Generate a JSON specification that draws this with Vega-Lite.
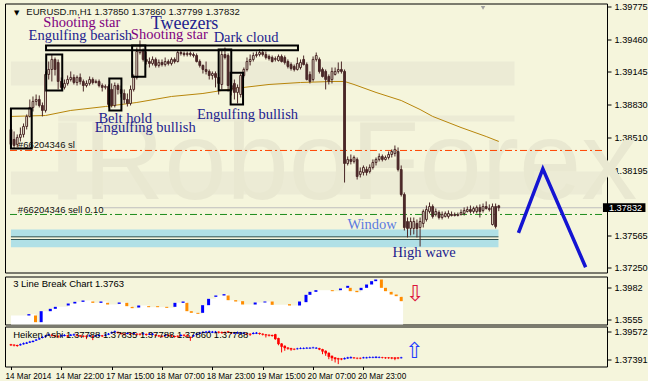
{
"$schema": "https://vega.github.io/schema/vega-lite/v6.json",
"background": "#F5F5DC",
"padding": {"left": 4, "top": 1.5, "right": 0, "bottom": 0},
"spacing": 0,
"resolve": {"scale": {"x": "independent", "y": "independent"}},
"config": {
  "view": {"stroke": "#000000", "strokeWidth": 1},
  "axis": {"labelFont": "Liberation Sans", "labelFontSize": 9.2, "labelColor": "#000000", "tickColor": "#000000", "domain": false, "grid": false},
  "text": {"font": "Liberation Sans"}
},
"datasets": {
  "candles": [
{"i":0,"o":1.38589,"h":1.38637,"l":1.38415,"c":1.38444},
{"i":1,"o":1.38492,"h":1.38570,"l":1.38405,"c":1.38434},
{"i":2,"o":1.38444,"h":1.38541,"l":1.38415,"c":1.38512},
{"i":3,"o":1.38512,"h":1.38608,"l":1.38473,"c":1.38541},
{"i":4,"o":1.38541,"h":1.38647,"l":1.38512,"c":1.38618},
{"i":5,"o":1.38618,"h":1.38734,"l":1.38589,"c":1.38715},
{"i":6,"o":1.38715,"h":1.38879,"l":1.38705,"c":1.38802},
{"i":7,"o":1.38802,"h":1.38908,"l":1.38763,"c":1.38860},
{"i":8,"o":1.38860,"h":1.38927,"l":1.38821,"c":1.38879},
{"i":9,"o":1.38879,"h":1.38918,"l":1.38802,"c":1.38821},
{"i":10,"o":1.38821,"h":1.38850,"l":1.38715,"c":1.38773},
{"i":11,"o":1.38773,"h":1.39150,"l":1.38753,"c":1.39121},
{"i":12,"o":1.39121,"h":1.39246,"l":1.39072,"c":1.39169},
{"i":13,"o":1.39169,"h":1.39314,"l":1.39053,"c":1.39266},
{"i":14,"o":1.39266,"h":1.39285,"l":1.39111,"c":1.39169},
{"i":15,"o":1.39237,"h":1.39266,"l":1.38976,"c":1.39053},
{"i":16,"o":1.39053,"h":1.39092,"l":1.38976,"c":1.38996},
{"i":17,"o":1.38996,"h":1.39072,"l":1.38976,"c":1.39034},
{"i":18,"o":1.39034,"h":1.39111,"l":1.39014,"c":1.39072},
{"i":19,"o":1.39072,"h":1.39150,"l":1.39053,"c":1.39092},
{"i":20,"o":1.39092,"h":1.39121,"l":1.39024,"c":1.39043},
{"i":21,"o":1.39043,"h":1.39111,"l":1.39014,"c":1.39092},
{"i":22,"o":1.39092,"h":1.39130,"l":1.39024,"c":1.39053},
{"i":23,"o":1.39053,"h":1.39072,"l":1.38956,"c":1.39014},
{"i":24,"o":1.39014,"h":1.39063,"l":1.38996,"c":1.39034},
{"i":25,"o":1.39034,"h":1.39101,"l":1.39014,"c":1.39072},
{"i":26,"o":1.39072,"h":1.39092,"l":1.39024,"c":1.39043},
{"i":27,"o":1.39043,"h":1.39072,"l":1.39034,"c":1.39053},
{"i":28,"o":1.39053,"h":1.39072,"l":1.38996,"c":1.39014},
{"i":29,"o":1.39014,"h":1.39034,"l":1.38956,"c":1.38996},
{"i":30,"o":1.38996,"h":1.39024,"l":1.38976,"c":1.39005},
{"i":31,"o":1.39005,"h":1.39024,"l":1.38802,"c":1.38831},
{"i":32,"o":1.38976,"h":1.39034,"l":1.38802,"c":1.38821},
{"i":33,"o":1.38821,"h":1.39043,"l":1.38802,"c":1.39014},
{"i":34,"o":1.39014,"h":1.39034,"l":1.38927,"c":1.38976},
{"i":35,"o":1.38976,"h":1.39014,"l":1.38898,"c":1.38937},
{"i":36,"o":1.38937,"h":1.38976,"l":1.38840,"c":1.38879},
{"i":37,"o":1.38879,"h":1.38937,"l":1.38811,"c":1.38840},
{"i":38,"o":1.38840,"h":1.39014,"l":1.38821,"c":1.38976},
{"i":39,"o":1.38976,"h":1.39121,"l":1.38956,"c":1.39092},
{"i":40,"o":1.39092,"h":1.39382,"l":1.39072,"c":1.39343},
{"i":41,"o":1.39333,"h":1.39450,"l":1.39314,"c":1.39353},
{"i":42,"o":1.39353,"h":1.39372,"l":1.39246,"c":1.39266},
{"i":43,"o":1.39266,"h":1.39343,"l":1.39217,"c":1.39246},
{"i":44,"o":1.39246,"h":1.39285,"l":1.39188,"c":1.39227},
{"i":45,"o":1.39227,"h":1.39295,"l":1.39208,"c":1.39266},
{"i":46,"o":1.39266,"h":1.39285,"l":1.39188,"c":1.39208},
{"i":47,"o":1.39208,"h":1.39266,"l":1.39188,"c":1.39237},
{"i":48,"o":1.39237,"h":1.39266,"l":1.39198,"c":1.39217},
{"i":49,"o":1.39217,"h":1.39285,"l":1.39198,"c":1.39246},
{"i":50,"o":1.39246,"h":1.39266,"l":1.39208,"c":1.39227},
{"i":51,"o":1.39227,"h":1.39285,"l":1.39208,"c":1.39266},
{"i":52,"o":1.39266,"h":1.39285,"l":1.39227,"c":1.39246},
{"i":53,"o":1.39246,"h":1.39353,"l":1.39237,"c":1.39333},
{"i":54,"o":1.39333,"h":1.39353,"l":1.39304,"c":1.39324},
{"i":55,"o":1.39324,"h":1.39343,"l":1.39295,"c":1.39314},
{"i":56,"o":1.39314,"h":1.39343,"l":1.39295,"c":1.39324},
{"i":57,"o":1.39324,"h":1.39343,"l":1.39295,"c":1.39314},
{"i":58,"o":1.39314,"h":1.39333,"l":1.39285,"c":1.39304},
{"i":59,"o":1.39304,"h":1.39324,"l":1.39237,"c":1.39246},
{"i":60,"o":1.39246,"h":1.39266,"l":1.39188,"c":1.39208},
{"i":61,"o":1.39208,"h":1.39217,"l":1.39130,"c":1.39169},
{"i":62,"o":1.39169,"h":1.39246,"l":1.39121,"c":1.39150},
{"i":63,"o":1.39150,"h":1.39169,"l":1.39072,"c":1.39111},
{"i":64,"o":1.39111,"h":1.39150,"l":1.39072,"c":1.39130},
{"i":65,"o":1.39130,"h":1.39150,"l":1.38996,"c":1.39092},
{"i":66,"o":1.39092,"h":1.39130,"l":1.38927,"c":1.39034},
{"i":67,"o":1.39024,"h":1.39363,"l":1.38976,"c":1.39314},
{"i":68,"o":1.39314,"h":1.39382,"l":1.39266,"c":1.39285},
{"i":69,"o":1.39304,"h":1.39324,"l":1.38956,"c":1.39014},
{"i":70,"o":1.39014,"h":1.39072,"l":1.38918,"c":1.38976},
{"i":71,"o":1.39034,"h":1.39072,"l":1.38879,"c":1.38947},
{"i":72,"o":1.38947,"h":1.39024,"l":1.38840,"c":1.38996},
{"i":73,"o":1.38927,"h":1.39130,"l":1.38898,"c":1.39111},
{"i":74,"o":1.39111,"h":1.39188,"l":1.39092,"c":1.39169},
{"i":75,"o":1.39169,"h":1.39285,"l":1.39150,"c":1.39246},
{"i":76,"o":1.39246,"h":1.39314,"l":1.39208,"c":1.39266},
{"i":77,"o":1.39266,"h":1.39333,"l":1.39246,"c":1.39304},
{"i":78,"o":1.39304,"h":1.39343,"l":1.39285,"c":1.39314},
{"i":79,"o":1.39314,"h":1.39363,"l":1.39295,"c":1.39333},
{"i":80,"o":1.39333,"h":1.39363,"l":1.39295,"c":1.39314},
{"i":81,"o":1.39314,"h":1.39343,"l":1.39266,"c":1.39285},
{"i":82,"o":1.39295,"h":1.39314,"l":1.39256,"c":1.39275},
{"i":83,"o":1.39285,"h":1.39304,"l":1.39237,"c":1.39246},
{"i":84,"o":1.39266,"h":1.39295,"l":1.39246,"c":1.39275},
{"i":85,"o":1.39256,"h":1.39314,"l":1.39246,"c":1.39295},
{"i":86,"o":1.39295,"h":1.39314,"l":1.39237,"c":1.39246},
{"i":87,"o":1.39285,"h":1.39304,"l":1.39217,"c":1.39237},
{"i":88,"o":1.39246,"h":1.39266,"l":1.39179,"c":1.39198},
{"i":89,"o":1.39217,"h":1.39237,"l":1.39159,"c":1.39179},
{"i":90,"o":1.39198,"h":1.39217,"l":1.39150,"c":1.39169},
{"i":91,"o":1.39169,"h":1.39285,"l":1.39159,"c":1.39227},
{"i":92,"o":1.39188,"h":1.39266,"l":1.39169,"c":1.39237},
{"i":93,"o":1.39266,"h":1.39304,"l":1.39208,"c":1.39217},
{"i":94,"o":1.39217,"h":1.39237,"l":1.39063,"c":1.39072},
{"i":95,"o":1.39121,"h":1.39150,"l":1.39034,"c":1.39053},
{"i":96,"o":1.39072,"h":1.39295,"l":1.39053,"c":1.39266},
{"i":97,"o":1.39266,"h":1.39333,"l":1.39246,"c":1.39304},
{"i":98,"o":1.39266,"h":1.39285,"l":1.39130,"c":1.39150},
{"i":99,"o":1.39169,"h":1.39188,"l":1.39092,"c":1.39101},
{"i":100,"o":1.39150,"h":1.39169,"l":1.38976,"c":1.39072},
{"i":101,"o":1.39101,"h":1.39121,"l":1.39024,"c":1.39053},
{"i":102,"o":1.39072,"h":1.39188,"l":1.39034,"c":1.39150},
{"i":103,"o":1.39121,"h":1.39188,"l":1.39111,"c":1.39150},
{"i":104,"o":1.39150,"h":1.39237,"l":1.39130,"c":1.39169},
{"i":105,"o":1.39169,"h":1.39246,"l":1.39130,"c":1.39150},
{"i":106,"o":1.39150,"h":1.39169,"l":1.38076,"c":1.38260},
{"i":107,"o":1.38260,"h":1.38328,"l":1.38241,"c":1.38299},
{"i":108,"o":1.38299,"h":1.38347,"l":1.38251,"c":1.38280},
{"i":109,"o":1.38280,"h":1.38337,"l":1.38260,"c":1.38318},
{"i":110,"o":1.38299,"h":1.38318,"l":1.38105,"c":1.38134},
{"i":111,"o":1.38154,"h":1.38222,"l":1.38125,"c":1.38183},
{"i":112,"o":1.38173,"h":1.38241,"l":1.38144,"c":1.38222},
{"i":113,"o":1.38202,"h":1.38231,"l":1.38144,"c":1.38173},
{"i":114,"o":1.38183,"h":1.38251,"l":1.38164,"c":1.38222},
{"i":115,"o":1.38222,"h":1.38299,"l":1.38202,"c":1.38270},
{"i":116,"o":1.38270,"h":1.38318,"l":1.38241,"c":1.38299},
{"i":117,"o":1.38299,"h":1.38357,"l":1.38280,"c":1.38328},
{"i":118,"o":1.38328,"h":1.38347,"l":1.38280,"c":1.38299},
{"i":119,"o":1.38299,"h":1.38337,"l":1.38289,"c":1.38318},
{"i":120,"o":1.38318,"h":1.38376,"l":1.38299,"c":1.38347},
{"i":121,"o":1.38347,"h":1.38396,"l":1.38318,"c":1.38376},
{"i":122,"o":1.38357,"h":1.38434,"l":1.38328,"c":1.38396},
{"i":123,"o":1.38376,"h":1.38415,"l":1.38183,"c":1.38202},
{"i":124,"o":1.38202,"h":1.38241,"l":1.37941,"c":1.37960},
{"i":125,"o":1.37960,"h":1.37980,"l":1.37612,"c":1.37641},
{"i":126,"o":1.37699,"h":1.37738,"l":1.37545,"c":1.37632},
{"i":127,"o":1.37632,"h":1.37738,"l":1.37564,"c":1.37699},
{"i":128,"o":1.37632,"h":1.37738,"l":1.37574,"c":1.37699},
{"i":129,"o":1.37680,"h":1.37719,"l":1.37545,"c":1.37632},
{"i":130,"o":1.37641,"h":1.37738,"l":1.37457,"c":1.37699},
{"i":131,"o":1.37680,"h":1.37815,"l":1.37641,"c":1.37796},
{"i":132,"o":1.37719,"h":1.37854,"l":1.37699,"c":1.37815},
{"i":133,"o":1.37796,"h":1.37883,"l":1.37777,"c":1.37844},
{"i":134,"o":1.37844,"h":1.37864,"l":1.37728,"c":1.37748},
{"i":135,"o":1.37767,"h":1.37825,"l":1.37748,"c":1.37796},
{"i":136,"o":1.37786,"h":1.37806,"l":1.37719,"c":1.37738},
{"i":137,"o":1.37738,"h":1.37796,"l":1.37719,"c":1.37767},
{"i":138,"o":1.37748,"h":1.37796,"l":1.37738,"c":1.37777},
{"i":139,"o":1.37748,"h":1.37806,"l":1.37728,"c":1.37777},
{"i":140,"o":1.37767,"h":1.37796,"l":1.37748,"c":1.37757},
{"i":141,"o":1.37767,"h":1.37786,"l":1.37748,"c":1.37757},
{"i":142,"o":1.37757,"h":1.37786,"l":1.37748,"c":1.37767},
{"i":143,"o":1.37767,"h":1.37815,"l":1.37757,"c":1.37786},
{"i":144,"o":1.37777,"h":1.37835,"l":1.37757,"c":1.37806},
{"i":145,"o":1.37796,"h":1.37844,"l":1.37786,"c":1.37815},
{"i":146,"o":1.37815,"h":1.37854,"l":1.37777,"c":1.37796},
{"i":147,"o":1.37796,"h":1.37844,"l":1.37777,"c":1.37825},
{"i":148,"o":1.37796,"h":1.37854,"l":1.37777,"c":1.37835},
{"i":149,"o":1.37835,"h":1.37864,"l":1.37738,"c":1.37796},
{"i":150,"o":1.37806,"h":1.37873,"l":1.37786,"c":1.37844},
{"i":151,"o":1.37844,"h":1.37893,"l":1.37815,"c":1.37825},
{"i":152,"o":1.37825,"h":1.37864,"l":1.37796,"c":1.37815},
{"i":153,"o":1.37670,"h":1.37873,"l":1.37661,"c":1.37844},
{"i":154,"o":1.37844,"h":1.37873,"l":1.37632,"c":1.37651},
{"i":155,"o":1.37850,"h":1.37860,"l":1.37799,"c":1.37832}
  ],
  "ma": [
{"i":0,"p":1.38715},{"i":11,"p":1.38724},{"i":19,"p":1.38773},{"i":30,"p":1.38811},{"i":40,"p":1.38850},{"i":51,"p":1.38908},{"i":61,"p":1.38937},{"i":71,"p":1.38985},{"i":82,"p":1.39024},{"i":92,"p":1.39043},{"i":102,"p":1.39053},{"i":106,"p":1.39053},{"i":109,"p":1.39024},{"i":116,"p":1.38947},{"i":124,"p":1.38869},{"i":130,"p":1.38782},{"i":134,"p":1.38715},{"i":143,"p":1.38608},{"i":151,"p":1.38521},{"i":155,"p":1.38473}
  ],
  "boxes": [
{"i":0,"i2":6.6,"p":1.38792,"p2":1.38405},
{"i":11.2,"i2":16.3,"p":1.39314,"p2":1.38966},
{"i":31.25,"i2":35.1,"p":1.39082,"p2":1.38773},
{"i":38.5,"i2":42.7,"p":1.39401,"p2":1.39098},
{"i":66,"i2":70,"p":1.39363,"p2":1.38969},
{"i":69.8,"i2":73.75,"p":1.39137,"p2":1.38831},
{"i":11.15,"i2":91.2,"p":1.39401,"p2":1.39356}
  ],
  "patterns": [
{"t":"Shooting star","i":10.3,"p":1.39582},
{"t":"Engulfing bearish","i":5.6,"p":1.39452},
{"t":"Tweezers","i":44.4,"p":1.39563},
{"t":"Shooting star","i":38.1,"p":1.39459},
{"t":"Dark cloud","i":64.4,"p":1.39437},
{"t":"Belt hold","i":27.8,"p":1.38647},
{"t":"Engulfing bullish","i":26.6,"p":1.38563},
{"t":"Engulfing bullish","i":59.1,"p":1.38692},
{"t":"Window","i":106.9,"p":1.37629},
{"t":"High wave","i":121.25,"p":1.37358}
  ],
  "bricks": [
{"i":5.7,"o":1.36089,"c":1.36269},{"i":7.8,"o":1.36089,"c":1.35191},{"i":9.6,"o":1.35191,"c":1.36672},{"i":12.5,"o":1.36672,"c":1.36987},{"i":14.1,"o":1.36987,"c":1.37256},{"i":18.2,"o":1.37436,"c":1.37705},{"i":20.3,"o":1.37705,"c":1.37930},{"i":22.9,"o":1.37930,"c":1.38109},{"i":26,"o":1.37975,"c":1.37795},{"i":28.6,"o":1.37795,"c":1.37975},{"i":30.7,"o":1.37795,"c":1.37570},{"i":34.4,"o":1.37660,"c":1.37840},{"i":36.8,"o":1.37795,"c":1.37346},{"i":38.5,"o":1.37256,"c":1.37077},{"i":40.6,"o":1.37166,"c":1.37436},{"i":43.75,"o":1.37346,"c":1.37211},{"i":46.6,"o":1.37346,"c":1.37211},{"i":49.5,"o":1.37256,"c":1.37122},{"i":52.1,"o":1.37256,"c":1.37795},{"i":54.7,"o":1.37795,"c":1.37975},{"i":55.9,"o":1.37795,"c":1.36672},{"i":57.3,"o":1.36672,"c":1.36448},{"i":59.4,"o":1.36448,"c":1.36313},{"i":60.9,"o":1.36448,"c":1.37481},{"i":62.8,"o":1.37481,"c":1.38334},{"i":65.1,"o":1.38603,"c":1.38783},{"i":67.7,"o":1.38783,"c":1.38962},{"i":69,"o":1.38783,"c":1.38154},{"i":71.4,"o":1.38154,"c":1.37975},{"i":73.6,"o":1.38020,"c":1.37570},{"i":77.6,"o":1.37570,"c":1.37840},{"i":80.7,"o":1.37840,"c":1.37975},{"i":83,"o":1.37975,"c":1.37526},{"i":88.5,"o":1.37615,"c":1.37436},{"i":91.7,"o":1.37436,"c":1.37975},{"i":93.75,"o":1.37885,"c":1.38873},{"i":95,"o":1.38873,"c":1.39277},{"i":96.9,"o":1.39277,"c":1.39501},{"i":102.1,"o":1.39501,"c":1.39367},{"i":104.7,"o":1.39501,"c":1.39726},{"i":107,"o":1.39816,"c":1.40085},{"i":107.8,"o":1.39816,"c":1.39367},{"i":109.9,"o":1.39411,"c":1.39232},{"i":111.25,"o":1.39501,"c":1.39816},{"i":113,"o":1.39816,"c":1.40265},{"i":114.6,"o":1.40265,"c":1.40714},{"i":115.9,"o":1.40714,"c":1.40938},{"i":117.7,"o":1.40938,"c":1.39816},{"i":119,"o":1.39816,"c":1.39367},{"i":120.8,"o":1.39277,"c":1.38918},{"i":122.4,"o":1.38918,"c":1.38693},{"i":124,"o":1.38603,"c":1.38020}
  ],
  "lbwhite": [
{"i":0,"p":1.36089},{"i":5.7,"p":1.36269},{"i":7.8,"p":1.35191},{"i":9.6,"p":1.36672},{"i":12.5,"p":1.36987},{"i":14.1,"p":1.37256},{"i":18.2,"p":1.37705},{"i":20.3,"p":1.37930},{"i":22.9,"p":1.38109},{"i":26,"p":1.37795},{"i":28.6,"p":1.37975},{"i":30.7,"p":1.37570},{"i":34.4,"p":1.37840},{"i":36.8,"p":1.37346},{"i":38.5,"p":1.37077},{"i":40.6,"p":1.37436},{"i":43.75,"p":1.37211},{"i":46.6,"p":1.37211},{"i":49.5,"p":1.37122},{"i":52.1,"p":1.37795},{"i":54.7,"p":1.37975},{"i":55.9,"p":1.36672},{"i":57.3,"p":1.36448},{"i":59.4,"p":1.36313},{"i":60.9,"p":1.37481},{"i":62.8,"p":1.38334},{"i":65.1,"p":1.38783},{"i":67.7,"p":1.38962},{"i":69,"p":1.38154},{"i":71.4,"p":1.37975},{"i":73.6,"p":1.37570},{"i":77.6,"p":1.37840},{"i":80.7,"p":1.37975},{"i":83,"p":1.37526},{"i":88.5,"p":1.37436},{"i":91.7,"p":1.37975},{"i":93.75,"p":1.38873},{"i":95,"p":1.39277},{"i":96.9,"p":1.39501},{"i":102.1,"p":1.39367},{"i":104.7,"p":1.39726},{"i":107,"p":1.40085},{"i":107.8,"p":1.39367},{"i":109.9,"p":1.39232},{"i":111.25,"p":1.39816},{"i":113,"p":1.40265},{"i":114.6,"p":1.40714},{"i":115.9,"p":1.40938},{"i":117.7,"p":1.39816},{"i":119,"p":1.39367},{"i":120.8,"p":1.38918},{"i":122.4,"p":1.38693},{"i":124,"p":1.38020},{"i":124.6,"p":1.38020}
  ],
  "ha": [
{"i":0,"o":1.3858,"c":1.3850,"h":1.3861,"l":1.3844},
{"i":1,"o":1.3855,"c":1.3847,"h":1.3858,"l":1.3841},
{"i":2,"o":1.3852,"c":1.3844,"h":1.3855,"l":1.3838},
{"i":3,"o":1.3850,"c":1.3858,"h":1.3864,"l":1.3847},
{"i":4,"o":1.3858,"c":1.3866,"h":1.3872,"l":1.3855},
{"i":5,"o":1.3863,"c":1.3871,"h":1.3877,"l":1.3860},
{"i":6,"o":1.3871,"c":1.3879,"h":1.3885,"l":1.3868},
{"i":7,"o":1.3876,"c":1.3884,"h":1.3890,"l":1.3873},
{"i":8,"o":1.3887,"c":1.3895,"h":1.3901,"l":1.3884},
{"i":9,"o":1.3897,"c":1.3905,"h":1.3911,"l":1.3894},
{"i":10,"o":1.3908,"c":1.3916,"h":1.3922,"l":1.3905},
{"i":11,"o":1.3918,"c":1.3926,"h":1.3932,"l":1.3915},
{"i":12,"o":1.3929,"c":1.3937,"h":1.3943,"l":1.3926},
{"i":13,"o":1.3934,"c":1.3926,"h":1.3937,"l":1.3920},
{"i":14,"o":1.3929,"c":1.3921,"h":1.3932,"l":1.3915},
{"i":15,"o":1.3926,"c":1.3918,"h":1.3929,"l":1.3907},
{"i":16,"o":1.3921,"c":1.3929,"h":1.3935,"l":1.3918},
{"i":17,"o":1.3924,"c":1.3932,"h":1.3938,"l":1.3921},
{"i":18,"o":1.3929,"c":1.3921,"h":1.3932,"l":1.3915},
{"i":19,"o":1.3926,"c":1.3934,"h":1.3940,"l":1.3923},
{"i":20,"o":1.3929,"c":1.3937,"h":1.3943,"l":1.3926},
{"i":21,"o":1.3934,"c":1.3926,"h":1.3937,"l":1.3920},
{"i":22,"o":1.3929,"c":1.3921,"h":1.3932,"l":1.3915},
{"i":23,"o":1.3926,"c":1.3918,"h":1.3929,"l":1.3912},
{"i":24,"o":1.3926,"c":1.3918,"h":1.3929,"l":1.3899},
{"i":25,"o":1.3921,"c":1.3929,"h":1.3935,"l":1.3918},
{"i":26,"o":1.3926,"c":1.3918,"h":1.3929,"l":1.3891},
{"i":27,"o":1.3921,"c":1.3929,"h":1.3935,"l":1.3918},
{"i":28,"o":1.3924,"c":1.3932,"h":1.3938,"l":1.3921},
{"i":29,"o":1.3929,"c":1.3921,"h":1.3932,"l":1.3915},
{"i":30,"o":1.3926,"c":1.3934,"h":1.3940,"l":1.3923},
{"i":31,"o":1.3934,"c":1.3942,"h":1.3948,"l":1.3931},
{"i":32,"o":1.3945,"c":1.3953,"h":1.3959,"l":1.3942},
{"i":33,"o":1.3953,"c":1.3961,"h":1.3967,"l":1.3950},
{"i":34,"o":1.3956,"c":1.3948,"h":1.3959,"l":1.3942},
{"i":35,"o":1.3948,"c":1.3940,"h":1.3951,"l":1.3934},
{"i":36,"o":1.3942,"c":1.3934,"h":1.3945,"l":1.3928},
{"i":37,"o":1.3940,"c":1.3948,"h":1.3954,"l":1.3937},
{"i":38,"o":1.3945,"c":1.3937,"h":1.3948,"l":1.3931},
{"i":39,"o":1.3940,"c":1.3948,"h":1.3954,"l":1.3937},
{"i":40,"o":1.3942,"c":1.3934,"h":1.3945,"l":1.3928},
{"i":41,"o":1.3942,"c":1.3934,"h":1.3945,"l":1.3928},
{"i":42,"o":1.3937,"c":1.3945,"h":1.3951,"l":1.3934},
{"i":43,"o":1.3940,"c":1.3932,"h":1.3943,"l":1.3926},
{"i":44,"o":1.3934,"c":1.3942,"h":1.3948,"l":1.3931},
{"i":45,"o":1.3934,"c":1.3942,"h":1.3948,"l":1.3931},
{"i":46,"o":1.3934,"c":1.3926,"h":1.3937,"l":1.3920},
{"i":47,"o":1.3929,"c":1.3921,"h":1.3932,"l":1.3915},
{"i":48,"o":1.3926,"c":1.3918,"h":1.3929,"l":1.3912},
{"i":49,"o":1.3924,"c":1.3932,"h":1.3938,"l":1.3921},
{"i":50,"o":1.3934,"c":1.3926,"h":1.3937,"l":1.3920},
{"i":51,"o":1.3929,"c":1.3921,"h":1.3932,"l":1.3915},
{"i":52,"o":1.3924,"c":1.3916,"h":1.3927,"l":1.3910},
{"i":53,"o":1.3926,"c":1.3918,"h":1.3929,"l":1.3912},
{"i":54,"o":1.3924,"c":1.3932,"h":1.3938,"l":1.3921},
{"i":55,"o":1.3934,"c":1.3926,"h":1.3937,"l":1.3920},
{"i":56,"o":1.3929,"c":1.3921,"h":1.3932,"l":1.3915},
{"i":57,"o":1.3916,"c":1.3908,"h":1.3919,"l":1.3885},
{"i":58,"o":1.3921,"c":1.3929,"h":1.3935,"l":1.3918},
{"i":59,"o":1.3934,"c":1.3942,"h":1.3948,"l":1.3931},
{"i":60,"o":1.3942,"c":1.3950,"h":1.3956,"l":1.3939},
{"i":61,"o":1.3948,"c":1.3956,"h":1.3962,"l":1.3945},
{"i":62,"o":1.3950,"c":1.3958,"h":1.3964,"l":1.3947},
{"i":63,"o":1.3953,"c":1.3961,"h":1.3967,"l":1.3950},
{"i":64,"o":1.3950,"c":1.3958,"h":1.3964,"l":1.3947},
{"i":65,"o":1.3950,"c":1.3958,"h":1.3964,"l":1.3947},
{"i":66,"o":1.3958,"c":1.3950,"h":1.3961,"l":1.3944},
{"i":67,"o":1.3956,"c":1.3948,"h":1.3959,"l":1.3942},
{"i":68,"o":1.3956,"c":1.3948,"h":1.3959,"l":1.3942},
{"i":69,"o":1.3961,"c":1.3953,"h":1.3964,"l":1.3947},
{"i":70,"o":1.3953,"c":1.3945,"h":1.3956,"l":1.3939},
{"i":71,"o":1.3942,"c":1.3950,"h":1.3956,"l":1.3939},
{"i":72,"o":1.3945,"c":1.3953,"h":1.3959,"l":1.3942},
{"i":73,"o":1.3942,"c":1.3950,"h":1.3956,"l":1.3939},
{"i":74,"o":1.3942,"c":1.3950,"h":1.3956,"l":1.3939},
{"i":75,"o":1.3945,"c":1.3937,"h":1.3948,"l":1.3931},
{"i":76,"o":1.3942,"c":1.3934,"h":1.3945,"l":1.3925},
{"i":77,"o":1.3940,"c":1.3948,"h":1.3954,"l":1.3937},
{"i":78,"o":1.3942,"c":1.3950,"h":1.3956,"l":1.3939},
{"i":79,"o":1.3948,"c":1.3940,"h":1.3951,"l":1.3934},
{"i":80,"o":1.3942,"c":1.3934,"h":1.3945,"l":1.3928},
{"i":81,"o":1.3937,"c":1.3929,"h":1.3940,"l":1.3912},
{"i":82,"o":1.3934,"c":1.3926,"h":1.3937,"l":1.3920},
{"i":83,"o":1.3932,"c":1.3924,"h":1.3935,"l":1.3918},
{"i":84,"o":1.3938,"c":1.3899,"h":1.3941,"l":1.3893},
{"i":85,"o":1.3907,"c":1.3859,"h":1.3910,"l":1.3850},
{"i":86,"o":1.3864,"c":1.3838,"h":1.3867,"l":1.3793},
{"i":87,"o":1.3846,"c":1.3827,"h":1.3849,"l":1.3806},
{"i":88,"o":1.3832,"c":1.3822,"h":1.3835,"l":1.3814},
{"i":89,"o":1.3827,"c":1.3816,"h":1.3830,"l":1.3806},
{"i":90,"o":1.3822,"c":1.3816,"h":1.3825,"l":1.3811},
{"i":91,"o":1.3819,"c":1.3824,"h":1.3830,"l":1.3816},
{"i":92,"o":1.3822,"c":1.3827,"h":1.3833,"l":1.3819},
{"i":93,"o":1.3822,"c":1.3827,"h":1.3833,"l":1.3819},
{"i":94,"o":1.3824,"c":1.3830,"h":1.3835,"l":1.3822},
{"i":95,"o":1.3824,"c":1.3830,"h":1.3835,"l":1.3822},
{"i":96,"o":1.3827,"c":1.3832,"h":1.3838,"l":1.3824},
{"i":97,"o":1.3824,"c":1.3830,"h":1.3835,"l":1.3822},
{"i":98,"o":1.3827,"c":1.3816,"h":1.3830,"l":1.3811},
{"i":99,"o":1.3819,"c":1.3800,"h":1.3822,"l":1.3779},
{"i":100,"o":1.3806,"c":1.3785,"h":1.3809,"l":1.3766},
{"i":101,"o":1.3790,"c":1.3758,"h":1.3793,"l":1.3739},
{"i":102,"o":1.3766,"c":1.3747,"h":1.3769,"l":1.3726},
{"i":103,"o":1.3753,"c":1.3739,"h":1.3756,"l":1.3713},
{"i":104,"o":1.3747,"c":1.3737,"h":1.3750,"l":1.3700},
{"i":105,"o":1.3745,"c":1.3737,"h":1.3748,"l":1.3731},
{"i":106,"o":1.3739,"c":1.3747,"h":1.3753,"l":1.3737},
{"i":107,"o":1.3745,"c":1.3753,"h":1.3758,"l":1.3742},
{"i":108,"o":1.3747,"c":1.3755,"h":1.3761,"l":1.3745},
{"i":109,"o":1.3753,"c":1.3747,"h":1.3756,"l":1.3742},
{"i":110,"o":1.3750,"c":1.3745,"h":1.3753,"l":1.3739},
{"i":111,"o":1.3750,"c":1.3745,"h":1.3753,"l":1.3739},
{"i":112,"o":1.3747,"c":1.3753,"h":1.3758,"l":1.3745},
{"i":113,"o":1.3747,"c":1.3753,"h":1.3758,"l":1.3745},
{"i":114,"o":1.3750,"c":1.3755,"h":1.3761,"l":1.3747},
{"i":115,"o":1.3750,"c":1.3755,"h":1.3761,"l":1.3747},
{"i":116,"o":1.3750,"c":1.3758,"h":1.3763,"l":1.3747},
{"i":117,"o":1.3750,"c":1.3755,"h":1.3761,"l":1.3747},
{"i":118,"o":1.3755,"c":1.3750,"h":1.3758,"l":1.3745},
{"i":119,"o":1.3753,"c":1.3747,"h":1.3756,"l":1.3742},
{"i":120,"o":1.3753,"c":1.3747,"h":1.3756,"l":1.3742},
{"i":121,"o":1.3753,"c":1.3745,"h":1.3756,"l":1.3739},
{"i":122,"o":1.3753,"c":1.3742,"h":1.3756,"l":1.3731},
{"i":123,"o":1.3753,"c":1.3745,"h":1.3756,"l":1.3739},
{"i":124,"o":1.3747,"c":1.3753,"h":1.3758,"l":1.3745}
  ]
},
"vconcat": [
{
  "width": 602,
  "height": 269,
  "encoding": {
    "x": {"field": "i", "type": "quantitative", "scale": {"domain": [-0.3, 187.8], "nice": false, "zero": false}, "axis": null},
    "y": {"field": "p", "type": "quantitative", "title": null, "scale": {"domain": [1.37206, 1.39807], "nice": false, "zero": false},
          "axis": {"orient": "right", "values": [1.39775, 1.3946, 1.39145, 1.3883, 1.3851, 1.38195, 1.37565, 1.3725], "format": ".5f", "tickSize": 4, "labelPadding": 3, "title": null}}
  },
  "layer": [
    {"data": {"values": [
      {"i": 0, "i2": 160, "p": 1.39246, "p2": 1.39014},
      {"i": 15, "i2": 160, "p": 1.38724, "p2": 1.38666},
      {"i": 0, "i2": 187.8, "p": 1.38183, "p2": 1.37960},
      {"i": 15, "i2": 20.9, "p": 1.38657, "p2": 1.37912}]},
     "mark": {"type": "rect", "color": "#ECEBD5"},
     "encoding": {"x2": {"field": "i2"}, "y2": {"field": "p2"}}},
    {"data": {"values": [{"t": "RoboForex", "i": 23, "p": 1.37912}]},
     "mark": {"type": "text", "font": "Liberation Sans", "fontSize": 112, "align": "left", "baseline": "alphabetic", "color": "#E9E8D1"},
     "encoding": {"text": {"field": "t"}}},
    {"data": {"values": [
      {"i": 0, "i2": 154.9, "p": 1.37622, "p2": 1.37551},
      {"i": 0, "i2": 154.9, "p": 1.37525, "p2": 1.37450}]},
     "mark": {"type": "rect", "color": "#B0E0E6"},
     "encoding": {"x2": {"field": "i2"}, "y2": {"field": "p2"}}},
    {"data": {"values": [
      {"i": 0, "i2": 154.9, "p": 1.37551},
      {"i": 0, "i2": 154.9, "p": 1.37525}]},
     "mark": {"type": "rule", "color": "#2F4F4F", "strokeWidth": 1},
     "encoding": {"x2": {"field": "i2"}}},
    {"data": {"values": [
      {"name": "sl", "i": -0.3, "i2": 187.8, "p": 1.38386},
      {"name": "sell", "i": -0.3, "i2": 187.8, "p": 1.37767},
      {"name": "bid", "i": 28, "i2": 187.8, "p": 1.37832}]},
     "mark": {"type": "rule", "strokeWidth": 1},
     "encoding": {"x2": {"field": "i2"},
       "color": {"field": "name", "type": "nominal", "scale": {"domain": ["sl", "sell", "bid"], "range": ["#FF4500", "#1E8C1E", "#BDBDBD"]}, "legend": null},
       "strokeDash": {"field": "name", "type": "nominal", "scale": {"domain": ["sl", "sell", "bid"], "range": [[7, 3, 2, 3], [7, 3, 2, 3], [1, 0]]}, "legend": null}}},
    {"data": {"name": "ma"},
     "mark": {"type": "line", "color": "#B8860B", "strokeWidth": 1},
     "encoding": {}},
    {"data": {"name": "candles"},
     "mark": {"type": "rule", "color": "#4B2828", "strokeWidth": 1},
     "encoding": {"y": {"field": "l", "type": "quantitative", "title": null}, "y2": {"field": "h"}}},
    {"data": {"name": "candles"},
     "mark": {"type": "bar", "size": 1.8, "stroke": "#4B2828", "strokeWidth": 1},
     "encoding": {"y": {"field": "o", "type": "quantitative", "title": null}, "y2": {"field": "c"},
       "fill": {"condition": {"test": "datum.c >= datum.o", "value": "#F5F5DC"}, "value": "#4B2828"}}},
    {"data": {"name": "boxes"},
     "mark": {"type": "rect", "fill": "transparent", "stroke": "#000000", "strokeWidth": 2},
     "encoding": {"x2": {"field": "i2"}, "y2": {"field": "p2"}}},
    {"data": {"name": "patterns"},
     "mark": {"type": "text", "font": "Liberation Serif", "align": "left", "baseline": "alphabetic"},
     "encoding": {"text": {"field": "t"},
       "size": {"condition": {"test": "datum.t === 'Tweezers'", "value": 18}, "value": 14.5},
       "color": {"condition": [{"test": "datum.t === 'Shooting star'", "value": "#800080"}, {"test": "datum.t === 'Window'", "value": "#5B7BE0"}], "value": "#22228F"}}},
    {"data": {"values": [
      {"t": "EURUSD.m,H1  1.37850 1.37860 1.37799 1.37832", "i": 4.9, "p": 1.39691},
      {"t": "#66204346 sl", "i": 2.2, "p": 1.38405},
      {"t": "#66204346 sell 0.10", "i": 2.2, "p": 1.37786}]},
     "mark": {"type": "text", "font": "Liberation Sans", "fontSize": 9.5, "align": "left", "baseline": "alphabetic", "color": "#111111"},
     "encoding": {"text": {"field": "t"}}},
    {"data": {"values": [{"t": "▼", "i": 1.0, "p": 1.39696}]},
     "mark": {"type": "text", "font": "DejaVu Sans", "fontSize": 7, "align": "left", "baseline": "alphabetic", "color": "#000000"},
     "encoding": {"text": {"field": "t"}}},
    {"data": {"values": [{"i": 150, "p": 1.39765}]},
     "mark": {"type": "point", "shape": "triangle-down", "size": 20, "filled": true, "color": "#A0A0A0", "opacity": 1},
     "encoding": {}},
    {"data": {"values": [{"i": 161.25, "p": 1.37590}, {"i": 169, "p": 1.38209}, {"i": 182.6, "p": 1.37257}]},
     "mark": {"type": "line", "color": "#1414D2", "strokeWidth": 3.5},
     "encoding": {}},
    {"data": {"values": [{"i": 188.1, "i2": 201.6, "p": 1.37875, "p2": 1.37790}]},
     "mark": {"type": "rect", "color": "#000000"},
     "encoding": {"x2": {"field": "i2"}, "y2": {"field": "p2"}}},
    {"data": {"values": [{"t": "1.37832", "i": 190.0, "p": 1.37832}]},
     "mark": {"type": "text", "font": "Liberation Sans", "fontSize": 9.2, "align": "left", "baseline": "middle", "color": "#FFFFFF"},
     "encoding": {"text": {"field": "t"}}}
  ]
},
{
  "width": 602,
  "height": 48,
  "encoding": {
    "x": {"field": "i", "type": "quantitative", "scale": {"domain": [-0.3, 187.8], "nice": false, "zero": false}, "axis": null},
    "y": {"field": "p", "type": "quantitative", "title": null, "scale": {"domain": [1.34877, 1.41342], "nice": false, "zero": false},
          "axis": {"orient": "right", "values": [1.3982, 1.3555], "format": ".4f", "tickSize": 4, "labelPadding": 3, "title": null}}
  },
  "layer": [
    {"data": {"name": "lbwhite"},
     "mark": {"type": "area", "interpolate": "step-after", "color": "#FFFFFF"},
     "encoding": {"y2": {"datum": 1.34877}}},
    {"data": {"name": "bricks"},
     "mark": {"type": "bar", "size": 3},
     "encoding": {"y": {"field": "o", "type": "quantitative", "title": null}, "y2": {"field": "c"},
       "color": {"condition": {"test": "datum.c > datum.o", "value": "#0000FF"}, "value": "#FF8C00"}}},
    {"data": {"values": [{"t": "3 Line Break Chart 1.3763", "i": 0.7, "p": 1.39995}]},
     "mark": {"type": "text", "font": "Liberation Sans", "fontSize": 9.5, "align": "left", "baseline": "alphabetic", "color": "#000000"},
     "encoding": {"text": {"field": "t"}}},
    {"data": {"values": [{"t": "⇩", "i": 128.4, "p": 1.39052}]},
     "mark": {"type": "text", "font": "DejaVu Sans", "fontSize": 22, "align": "center", "baseline": "middle", "color": "#DC143C"},
     "encoding": {"text": {"field": "t"}}}
  ]
},
{
  "width": 602,
  "height": 40,
  "encoding": {
    "x": {"field": "i", "type": "quantitative", "title": null, "scale": {"domain": [-0.3, 187.8], "nice": false, "zero": false},
          "axis": {"orient": "bottom", "values": [0, 16, 32, 48, 64, 80, 96, 112],
                   "labelExpr": "datum.value == 0 ? '14 Mar 2014' : datum.value == 16 ? '14 Mar 22:00' : datum.value == 32 ? '17 Mar 15:00' : datum.value == 48 ? '18 Mar 07:00' : datum.value == 64 ? '18 Mar 23:00' : datum.value == 80 ? '19 Mar 15:00' : datum.value == 96 ? '20 Mar 07:00' : '20 Mar 23:00'",
                   "labelAlign": "left", "labelBaseline": "top", "labelPadding": 3, "labelOffset": -6, "labelFontSize": 8.2, "tickSize": 3, "labelFlush": false, "labelOverlap": false, "title": null}},
    "y": {"field": "p", "type": "quantitative", "title": null, "scale": {"domain": [1.36810, 1.39994], "nice": false, "zero": false},
          "axis": {"orient": "right", "values": [1.39572, 1.37391], "format": ".5f", "tickSize": 4, "labelPadding": 3, "title": null}}
  },
  "layer": [
    {"data": {"name": "ha"},
     "mark": {"type": "rule", "strokeWidth": 1},
     "encoding": {"y": {"field": "l", "type": "quantitative", "title": null}, "y2": {"field": "h"},
       "color": {"condition": {"test": "datum.c >= datum.o", "value": "#0000FF"}, "value": "#FF0000"}}},
    {"data": {"name": "ha"},
     "mark": {"type": "bar", "size": 2.6},
     "encoding": {"y": {"field": "o", "type": "quantitative", "title": null}, "y2": {"field": "c"},
       "color": {"condition": {"test": "datum.c >= datum.o", "value": "#0000FF"}, "value": "#FF0000"}}},
    {"data": {"values": [{"t": "Heiken Ashi 1.37788 1.37835 1.37788 1.37860 1.37788", "i": 0.7, "p": 1.39039}]},
     "mark": {"type": "text", "font": "Liberation Sans", "fontSize": 9.5, "align": "left", "baseline": "alphabetic", "color": "#000000"},
     "encoding": {"text": {"field": "t"}}},
    {"data": {"values": [{"t": "⇧", "i": 128.1, "p": 1.38083}]},
     "mark": {"type": "text", "font": "DejaVu Sans", "fontSize": 22, "align": "center", "baseline": "middle", "color": "#1E3CFF"},
     "encoding": {"text": {"field": "t"}}}
  ]
}
]
}
